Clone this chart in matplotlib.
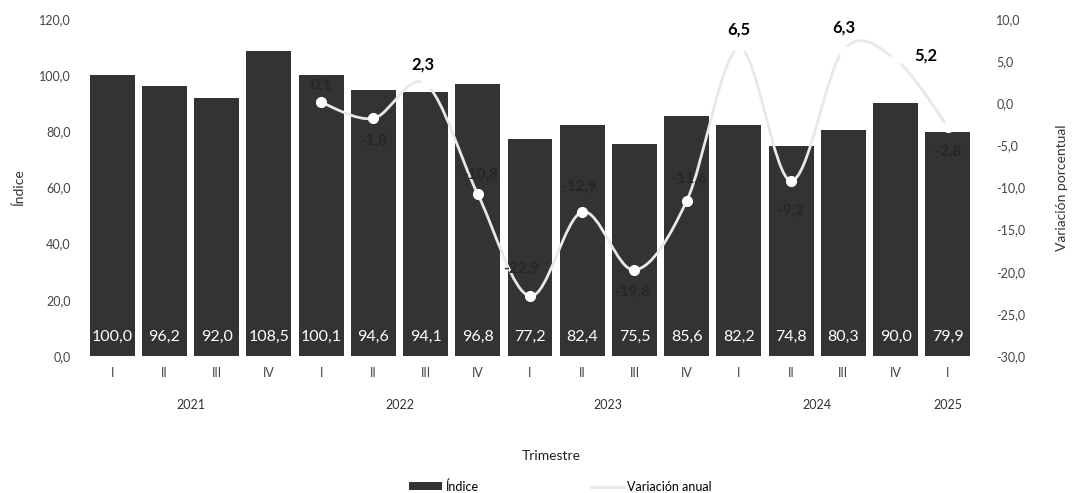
import matplotlib
matplotlib.use("Agg")
import matplotlib.pyplot as plt
from matplotlib.path import Path
from matplotlib.patches import PathPatch, Patch
from matplotlib.lines import Line2D
import numpy as np

plt.rcParams['font.family'] = ['Lato', 'DejaVu Sans']

quarters = ["I", "II", "III", "IV", "I", "II", "III", "IV", "I", "II", "III", "IV",
            "I", "II", "III", "IV", "I"]
years = ["2021", "2022", "2023", "2024", "2025"]
year_counts = [4, 4, 4, 4, 1]
indice = [100.0, 96.2, 92.0, 108.5, 100.1, 94.6, 94.1, 96.8, 77.2, 82.4, 75.5, 85.6,
          82.2, 74.8, 80.3, 90.0, 79.9]
# annual variation starts at 2022 I (index position 4)
var_start = 4
variacion = [0.1, -1.8, 2.3, -10.8, -22.9, -12.9, -19.8, -11.6, 6.5, -9.2, 6.3, 5.2, -2.8]

def fmt(v):
    return f"{v:.1f}".replace(".", ",")

fig = plt.figure(figsize=(10.78, 4.93), dpi=100)
ax = fig.add_axes([0.0798, 0.278, 0.8237, 0.6835])
ax2 = ax.twinx()

x = np.arange(len(indice))
bar_color = "#333333"
ax.bar(x, indice, width=0.86, color=bar_color, zorder=1)
for xi, v in zip(x, indice):
    ax.text(xi, 6.8, fmt(v), ha="center", va="center", color="white",
            fontsize=11.5, zorder=3)

ax.set_xlim(-0.5, len(indice) - 0.5)
ax.set_ylim(0, 120)
ax.set_yticks(np.arange(0, 121, 20))
ax.set_yticklabels([fmt(v) for v in np.arange(0, 121, 20)])
ax2.set_ylim(-30, 10)
ax2.set_yticks(np.arange(-30, 11, 5))
ax2.set_yticklabels([fmt(v) for v in np.arange(-30, 11, 5)])

for a in (ax, ax2):
    for s in a.spines.values():
        s.set_visible(False)
    a.tick_params(axis="y", length=0, labelsize=9, colors="#444444")
ax.tick_params(axis="y", pad=11)
ax2.tick_params(axis="y", pad=16)

ax.set_xticks(x)
ax.set_xticklabels(quarters)
ax.tick_params(axis="x", length=0, labelsize=9, colors="#444444", pad=8)

# year labels
pos = 0
for yr, n in zip(years, year_counts):
    c = pos + (n - 1) / 2
    ax.text(c, -17.5, yr, ha="center", va="center", fontsize=9, color="#333333")
    pos += n

ax.text((len(indice) - 1) / 2 + 0.4, -35.5, "Trimestre", ha="center", va="center",
        fontsize=10, color="#222222")

ax.set_ylabel("Índice", fontsize=10, color="#333333", labelpad=10)
ax2.set_ylabel("Variación porcentual", fontsize=10, color="#333333", labelpad=22)

# smooth line (Catmull-Rom Bezier through the data points)
vx = x[var_start:var_start + len(variacion)].astype(float)
vy = np.array(variacion, dtype=float)
P = np.column_stack([vx, vy])
verts = [P[0]]
codes = [Path.MOVETO]
n = len(P)
for i in range(n - 1):
    p0 = P[i - 1] if i > 0 else P[i]
    p1 = P[i]
    p2 = P[i + 1]
    p3 = P[i + 2] if i + 2 < n else P[i + 1]
    c1 = p1 + (p2 - p0) / 6
    c2 = p2 - (p3 - p1) / 6
    verts += [c1, c2, p2]
    codes += [Path.CURVE4] * 3
path = Path(verts, codes)
line_color = "#e8e8e8"
ax2.add_patch(PathPatch(path, facecolor="none", edgecolor=line_color, lw=2.0, zorder=4))
ax2.plot(vx, vy, linestyle="none", marker="o", markersize=7, color="white",
         markeredgecolor="white", zorder=5)

# label offsets (points)
offsets = [(0, 12), (0, -16), (-2, 14), (2, 14), (-6, 20), (-2, 18), (-2, -16),
           (2, 16), (0, 14), (0, -22), (0, 16), (22, 3), (0, -18)]
for xi, v, (dx, dy) in zip(vx, vy, offsets):
    if v > 1:
        col, w, fs = "black", "bold", 12
    else:
        col, w, fs = "#262626", "bold", 11
    ax2.annotate(fmt(v), (xi, v), xytext=(dx, dy), textcoords="offset points",
                 ha="center", va="center", fontsize=fs, fontweight=w, color=col,
                 zorder=6)

handles = [Patch(facecolor=bar_color, edgecolor="none"),
           Line2D([0], [0], color=line_color, lw=2)]
fig.legend(handles, ["Índice", "Variación anual"], loc="center",
           bbox_to_anchor=(0.52, 0.013), ncol=2, frameon=False, fontsize=9,
           handlelength=2.6, handleheight=0.6, columnspacing=9, handletextpad=0.3)

fig.savefig("out.png", dpi=100)
